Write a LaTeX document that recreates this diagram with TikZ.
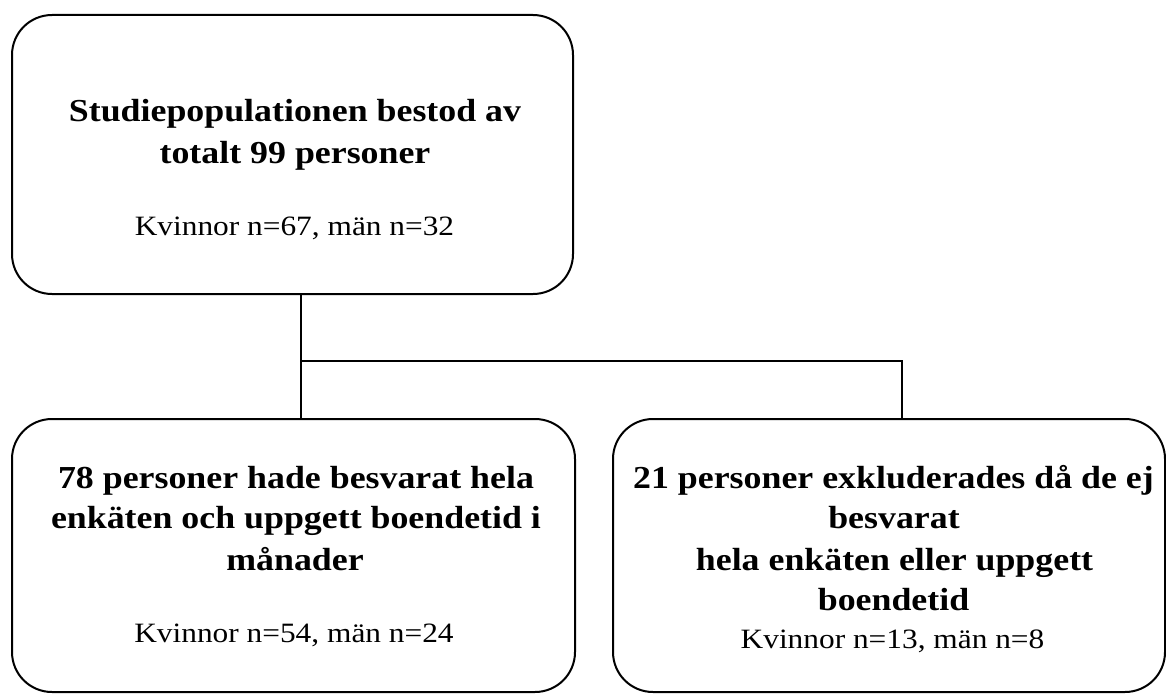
\documentclass[tikz,border=0pt]{standalone}
\usepackage{fontspec}
\setmainfont{Liberation Serif}[FakeStretch=1.12]
\begin{document}
\begin{tikzpicture}[x=1pt,y=-1pt,
  box/.style={draw,line width=2pt,rounded corners=40pt,inner sep=0pt,fill=white},
  conn/.style={line width=2pt},
  htext/.style={anchor=base,inner sep=0pt,font=\fontsize{32}{38}\selectfont\bfseries},
  ntext/.style={anchor=base,inner sep=0pt,font=\fontsize{28}{34}\selectfont}]
\useasboundingbox (0,0) rectangle (1166,693);
% boxes
\node[box,minimum width=561pt,minimum height=279pt] (top) at (292.5,154.5) {};
\node[box,minimum width=563pt,minimum height=273pt] (left) at (293.5,555.5) {};
\node[box,minimum width=552pt,minimum height=273pt] (right) at (889,555.5) {};
% connectors
\coordinate (jl) at (301,361);
\coordinate (jr) at (902,361);
\draw[conn] (jl |- top.south) -- (jl |- left.north);
\draw[conn] (jl) -- (jr) -- (jr |- right.north);
% top text
\node[htext] (t1) at (295,121) {Studiepopulationen bestod av};
\node[htext] (t2) at (295,163) {totalt 99 personer};
\node[ntext] (t3) at (294.5,235) {Kvinnor n=67, män n=32};
% left text
\node[htext] (l1) at (296,488) {78 personer hade besvarat hela};
\node[htext] (l2) at (296,528) {enkäten och uppgett boendetid i};
\node[htext] (l3) at (295,570) {månader};
\node[ntext] (l4) at (294,642) {Kvinnor n=54, män n=24};
% right text
\node[htext] (r1) at (893.5,488) {21 personer exkluderades då de ej};
\node[htext] (r2) at (894,528) {besvarat};
\node[htext] (r3) at (894.5,570) {hela enkäten eller uppgett};
\node[htext] (r4) at (893.5,610) {boendetid};
\node[ntext] (r5) at (892.5,648) {Kvinnor n=13, män n=8};
\end{tikzpicture}
\end{document}
